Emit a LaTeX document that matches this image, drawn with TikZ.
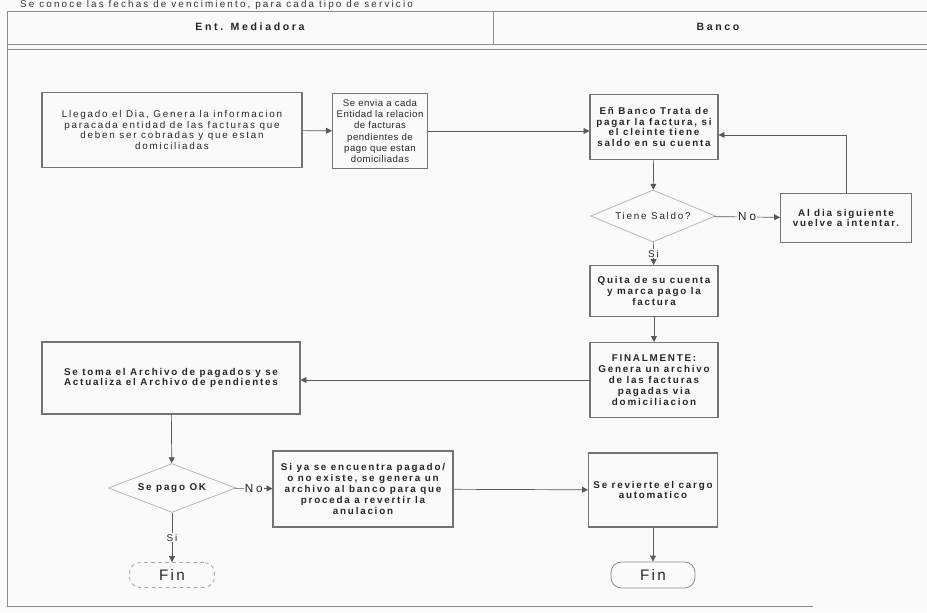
\documentclass[tikz,border=0pt]{standalone}
\usepackage{fontspec}
\setmainfont{Liberation Sans}
\usetikzlibrary{arrows.meta,shapes.geometric}

\newcommand{\pxUnit}{0.03cm}
\newcommand{\boxFont}{\fontsize{8.4}{9.3}\selectfont\addfontfeatures{LetterSpace=18}}
\newcommand{\tightFont}{\fontsize{8.2}{9.6}\selectfont\addfontfeatures{LetterSpace=5}}
\newcommand{\laneFont}{\fontsize{9}{10}\selectfont\bfseries\addfontfeatures{LetterSpace=25}}
\newcommand{\finFont}{\fontsize{13}{14}\selectfont\addfontfeatures{LetterSpace=15}}
\newcommand{\labelFont}{\fontsize{10}{11}\selectfont\addfontfeatures{LetterSpace=25}}

\begin{document}
\begin{tikzpicture}[x=\pxUnit,y=-\pxUnit]
\tikzstyle{flowBox}=[draw=black!55,line width=0.9pt,rectangle,align=center,font=\boxFont,text=black!85,inner sep=1pt]
\tikzstyle{flowChoice}=[draw=black!28,line width=0.7pt,diamond,aspect=2.4,inner sep=0pt,font=\boxFont,text=black!85]
\tikzstyle{flowEnd}=[draw=black!45,line width=0.7pt,rectangle,rounded corners=9pt,font=\finFont,text=black!85]
\tikzstyle{flowEdge}=[draw=black!65,line width=0.6pt,-{Triangle[length=5pt,width=5pt]}]
\tikzstyle{flowLabel}=[fill=black!2,inner sep=1pt,font=\labelFont,text=black!85]
\tikzstyle{frameLine}=[draw=black!45,line width=0.8pt]
\useasboundingbox (0,0) rectangle (927,612);
\fill[black!2] (0,0) rectangle (927,612);
% heading and lanes
\node[anchor=west,inner sep=0pt,font=\fontsize{8.4}{9}\selectfont\addfontfeatures{LetterSpace=22},text=black!80] (note) at (20,5) {Se conoce las fechas de vencimiento, para cada tipo de servicio};
\draw[frameLine] (7,11) -- (927,11);
\draw[frameLine] (7,44) -- (927,44);
\draw[frameLine] (7,49) -- (927,49);
\draw[frameLine] (493,11) -- (493,44);
\draw[frameLine] (7,11) -- (7,606) -- (813,606);
\node[font=\laneFont,text=black!85] (lane-1) at (250,27) {Ent. Mediadora};
\node[font=\laneFont,text=black!85] (lane-2) at (718,27) {Banco};
% steps
\node[flowBox,minimum width=260*\pxUnit,minimum height=75*\pxUnit] (p-1) at (172,130) {Llegado el Dia, Genera la informacion\\paracada entidad de las facturas que\\deben ser cobradas y que estan\\domiciliadas};
\node[flowBox,font=\tightFont,minimum width=95*\pxUnit,minimum height=75*\pxUnit] (p-2) at (380,131) {Se envia a cada\\Entidad la relacion\\de facturas\\pendientes de\\pago que estan\\domiciliadas};
\node[flowBox,font=\boxFont\bfseries,minimum width=128*\pxUnit,minimum height=65*\pxUnit] (p-3) at (654,127) {Eñ Banco Trata de\\pagar la factura, si\\el cleinte tiene\\saldo en su cuenta};
\node[flowChoice,minimum width=125*\pxUnit,minimum height=52*\pxUnit] (q-1) at (653,216) {Tiene Saldo?};
\node[flowBox,font=\boxFont\bfseries,minimum width=131*\pxUnit,minimum height=49*\pxUnit] (p-4) at (846,218) {Al dia siguiente\\vuelve a intentar.};
\node[flowBox,font=\boxFont\bfseries,minimum width=128*\pxUnit,minimum height=51*\pxUnit] (p-5) at (654,291) {Quita de su cuenta\\y marca pago la\\factura};
\node[flowBox,font=\boxFont\bfseries,minimum width=128*\pxUnit,minimum height=75*\pxUnit] (p-6) at (654,380) {FINALMENTE:\\Genera un archivo\\de las facturas\\pagadas via\\domiciliacion};
\node[flowBox,font=\boxFont\bfseries,minimum width=258*\pxUnit,minimum height=72*\pxUnit] (p-7) at (171,378) {Se toma el Archivo de pagados y se\\Actualiza el Archivo de pendientes};
\node[flowChoice,font=\boxFont\bfseries,minimum width=127*\pxUnit,minimum height=49*\pxUnit] (q-2) at (172,488) {Se pago OK};
\node[flowBox,font=\boxFont\bfseries,minimum width=180*\pxUnit,minimum height=76*\pxUnit] (p-8) at (363,489) {Si ya se encuentra pagado/\\o no existe, se genera un\\archivo al banco para que\\proceda a revertir la\\anulacion};
\node[flowBox,font=\boxFont\bfseries,minimum width=129*\pxUnit,minimum height=74*\pxUnit] (p-9) at (653,490) {Se revierte el cargo\\automatico};
\node[flowEnd,draw=black!35,dashed,minimum width=85*\pxUnit,minimum height=25*\pxUnit] (f-1) at (172,575) {Fin};
\node[flowEnd,minimum width=84*\pxUnit,minimum height=26*\pxUnit] (f-2) at (653,575) {Fin};
% connectors
\draw[flowEdge] (p-1) -- (p-2);
\draw[flowEdge] (p-2.east) -- (p-2.east -| p-3.west);
\draw[flowEdge] (p-3) -- (q-1);
\draw[flowEdge] (q-1) -- node[flowLabel] {No} (p-4);
\draw[flowEdge] (p-4.north) |- (p-3.-7);
\draw[flowEdge] (q-1) -- node[flowLabel,font=\boxFont] {Si} (p-5);
\draw[flowEdge] (p-5) -- (p-6);
\draw[flowEdge] (p-6.west) -- (p-6.west -| p-7.east);
\draw[flowEdge] (p-7) -- (q-2);
\draw[flowEdge] (q-2) -- node[flowLabel] {No} (p-8);
\draw[flowEdge] (q-2) -- node[flowLabel,font=\boxFont] {Si} (f-1);
\draw[flowEdge] (p-8) -- (p-9);
\draw[flowEdge] (p-9) -- (f-2);
\end{tikzpicture}
\end{document}
